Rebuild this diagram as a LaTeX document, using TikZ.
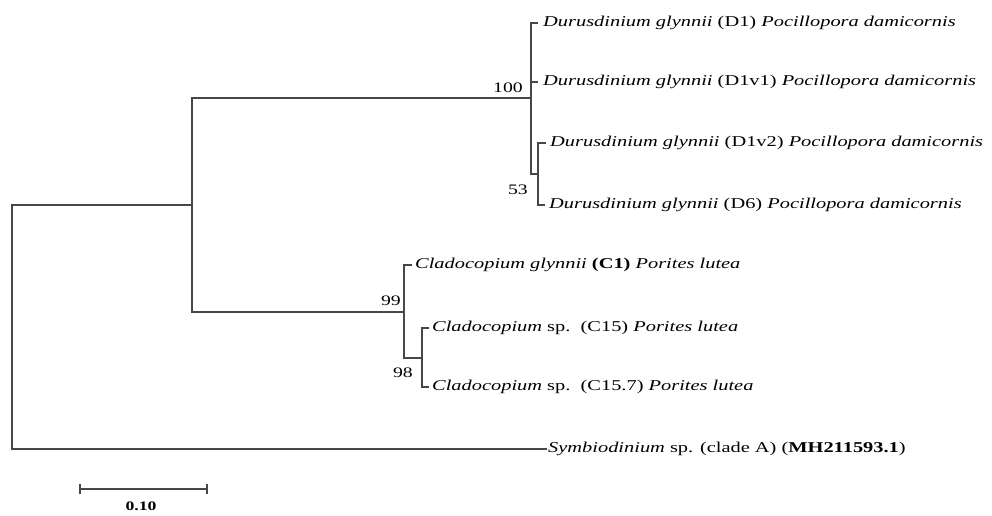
\documentclass[tikz,border=0pt]{standalone}
\usepackage{fontspec}
\setmainfont{Liberation Serif}
\newcommand{\lab}[1]{\scalebox{1.36}[1]{#1}}
\begin{document}
\begin{tikzpicture}[x=1pt,y=-1pt,
  br/.style={draw=black!72,line width=1.6pt},
  leaf/.style={anchor=west,inner sep=0pt,font=\fontsize{15}{17}\selectfont},
  boot/.style={inner sep=0pt,font=\fontsize{14.5}{16}\selectfont}]
\useasboundingbox (0,0) rectangle (992,515);
\coordinate (r) at (12,327);
\coordinate (n1) at (192,205);
\coordinate (nD) at (531,98);
\coordinate (nD2) at (538,174);
\coordinate (nC) at (404,312);
\coordinate (nC2) at (422,358);
\node[leaf] (D1) at (543,23) {\lab{\textit{Durusdinium glynnii} (D1) \textit{Pocillopora damicornis}}};
\node[leaf] (D1v1) at (543,82) {\lab{\textit{Durusdinium glynnii} (D1v1) \textit{Pocillopora damicornis}}};
\node[leaf] (D1v2) at (550,143) {\lab{\textit{Durusdinium glynnii} (D1v2) \textit{Pocillopora damicornis}}};
\node[leaf] (D6) at (549,205) {\lab{\textit{Durusdinium glynnii} (D6) \textit{Pocillopora damicornis}}};
\node[leaf] (C1) at (415,265) {\lab{\textit{Cladocopium glynnii} \textbf{(C1)} \textit{Porites lutea}}};
\node[leaf] (C15) at (432,328) {\lab{\textit{Cladocopium} sp.\ \ (C15) \textit{Porites lutea}}};
\node[leaf] (C157) at (432,387) {\lab{\textit{Cladocopium} sp.\ \ (C15.7) \textit{Porites lutea}}};
\node[leaf] (A) at (548,449) {\lab{\textit{Symbiodinium} sp. (clade A) (\textbf{MH211593.1})}};
\draw[br] (r) |- (n1);
\draw[br] (r) |- ([xshift=-1pt]A.west);
\draw[br] (n1) |- (nD);
\draw[br] (n1) |- (nC);
\draw[br] (nD) |- ([xshift=-5pt]D1.west);
\draw[br] (nD) |- ([xshift=-5pt]D1v1.west);
\draw[br] (nD) |- (nD2);
\draw[br] (nD2) |- ([xshift=-4pt]D1v2.west);
\draw[br] (nD2) |- ([xshift=-4pt]D6.west);
\draw[br] (nC) |- ([xshift=-3pt]C1.west);
\draw[br] (nC) |- (nC2);
\draw[br] (nC2) |- ([xshift=-3pt]C15.west);
\draw[br] (nC2) |- ([xshift=-3pt]C157.west);
\node[boot,anchor=east] (b100) at (523,88) {\lab{100}};
\node[boot,anchor=east] (b53) at (528,190) {\lab{53}};
\node[boot,anchor=east] (b99) at (401,301) {\lab{99}};
\node[boot,anchor=east] (b98) at (413,373) {\lab{98}};
\coordinate (s1) at (80,489);
\coordinate (s2) at (207,489);
\draw[br,line width=1.4pt] (s1) -- (s2);
\draw[br,line width=1.2pt] ([yshift=-5pt]s1) -- ([yshift=5pt]s1);
\draw[br,line width=1.2pt] ([yshift=-5pt]s2) -- ([yshift=5pt]s2);
\node[boot,font=\fontsize{13}{14}\selectfont\bfseries] (sl) at (141,506) {\lab{0.10}};
\end{tikzpicture}
\end{document}
